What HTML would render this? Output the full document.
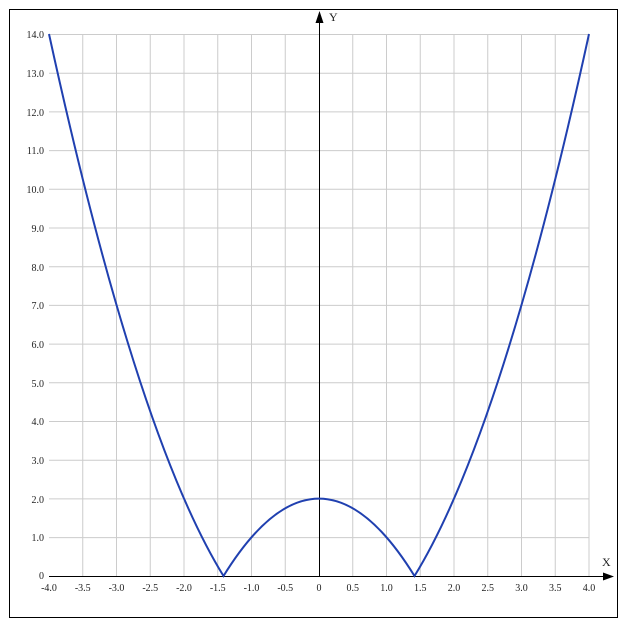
<!DOCTYPE html>
<html><head><meta charset="utf-8"><style>
body{margin:0;background:#fff}
svg text{font-family:"Liberation Serif",serif;font-size:10px;fill:#222}
</style></head><body>
<svg width="627" height="630" xmlns="http://www.w3.org/2000/svg">
<rect x="9.5" y="9.5" width="608" height="608" fill="#fff" stroke="#000" stroke-width="1"/>
<g stroke="#ccc" stroke-width="1">
<line x1="82.75" y1="34" x2="82.75" y2="576"/><line x1="116.5" y1="34" x2="116.5" y2="576"/><line x1="150.25" y1="34" x2="150.25" y2="576"/><line x1="184" y1="34" x2="184" y2="576"/><line x1="217.75" y1="34" x2="217.75" y2="576"/><line x1="251.5" y1="34" x2="251.5" y2="576"/><line x1="285.25" y1="34" x2="285.25" y2="576"/><line x1="352.75" y1="34" x2="352.75" y2="576"/><line x1="386.5" y1="34" x2="386.5" y2="576"/><line x1="420.25" y1="34" x2="420.25" y2="576"/><line x1="454" y1="34" x2="454" y2="576"/><line x1="487.75" y1="34" x2="487.75" y2="576"/><line x1="521.5" y1="34" x2="521.5" y2="576"/><line x1="555.25" y1="34" x2="555.25" y2="576"/><line x1="589" y1="34" x2="589" y2="576"/>
<line x1="49" y1="34.5" x2="589" y2="34.5"/><line x1="49" y1="73.2" x2="589" y2="73.2"/><line x1="49" y1="111.9" x2="589" y2="111.9"/><line x1="49" y1="150.6" x2="589" y2="150.6"/><line x1="49" y1="189.3" x2="589" y2="189.3"/><line x1="49" y1="228" x2="589" y2="228"/><line x1="49" y1="266.7" x2="589" y2="266.7"/><line x1="49" y1="305.4" x2="589" y2="305.4"/><line x1="49" y1="344.1" x2="589" y2="344.1"/><line x1="49" y1="382.8" x2="589" y2="382.8"/><line x1="49" y1="421.5" x2="589" y2="421.5"/><line x1="49" y1="460.2" x2="589" y2="460.2"/><line x1="49" y1="498.9" x2="589" y2="498.9"/><line x1="49" y1="537.6" x2="589" y2="537.6"/>
</g>
<line x1="49" y1="576.5" x2="608" y2="576.5" stroke="#000"/>
<polygon points="614,576.5 603,572.5 603,580.5" fill="#000"/>
<line x1="319.5" y1="576" x2="319.5" y2="18" stroke="#000"/>
<polygon points="319.5,11 315.5,23 323.5,23" fill="#000"/>
<text x="329" y="21" style="font-size:12px">Y</text>
<text x="602" y="566" style="font-size:12px">X</text>
<path d="M49,34 Q136.3,434.4 223.5,576 Q271.3,498.6 319,498.6 Q366.7,498.6 414.5,576 Q501.7,434.4 589,34" fill="none" stroke="#2040b0" stroke-width="2"/>
<g text-anchor="end">
<text x="44" y="38">14.0</text><text x="44" y="77">13.0</text><text x="44" y="116">12.0</text><text x="44" y="154">11.0</text><text x="44" y="193">10.0</text><text x="44" y="232">9.0</text><text x="44" y="271">8.0</text><text x="44" y="309">7.0</text><text x="44" y="348">6.0</text><text x="44" y="387">5.0</text><text x="44" y="425">4.0</text><text x="44" y="464">3.0</text><text x="44" y="503">2.0</text><text x="44" y="541">1.0</text><text x="44" y="579">0</text>
</g>
<g text-anchor="middle">
<text x="49" y="591">-4.0</text><text x="82.75" y="591">-3.5</text><text x="116.5" y="591">-3.0</text><text x="150.25" y="591">-2.5</text><text x="184" y="591">-2.0</text><text x="217.75" y="591">-1.5</text><text x="251.5" y="591">-1.0</text><text x="285.25" y="591">-0.5</text><text x="319" y="591">0</text><text x="352.75" y="591">0.5</text><text x="386.5" y="591">1.0</text><text x="420.25" y="591">1.5</text><text x="454" y="591">2.0</text><text x="487.75" y="591">2.5</text><text x="521.5" y="591">3.0</text><text x="555.25" y="591">3.5</text><text x="589" y="591">4.0</text>
</g>
</svg>
</body></html>
